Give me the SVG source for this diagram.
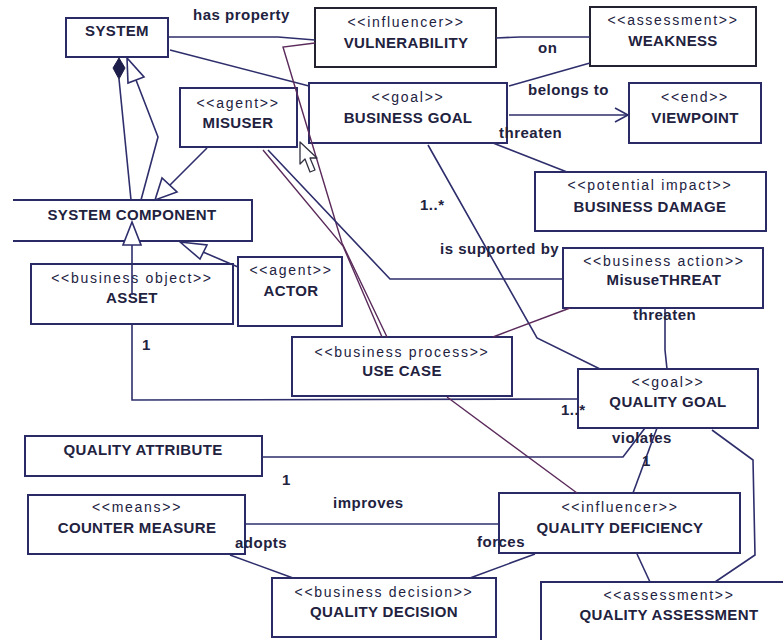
<svg xmlns="http://www.w3.org/2000/svg" width="783" height="640" viewBox="0 0 783 640">
  <style>
    .box { fill: #ffffff; stroke: #2a2a66; stroke-width: 2; }
    .box.dark { stroke: #222230; }
    .st { font-family: "Liberation Sans", Arial, sans-serif; font-size: 14px; letter-spacing: 1.7px; fill: #22223f; text-anchor: middle; }
    .nm { font-family: "Liberation Sans", Arial, sans-serif; font-size: 15px; font-weight: bold; letter-spacing: 0.35px; fill: #22223f; text-anchor: middle; }
    .lb { font-family: "Liberation Sans", Arial, sans-serif; font-size: 15px; font-weight: bold; letter-spacing: 0.5px; fill: #22223f; }
    .ln { fill: none; stroke: #2e2e6c; stroke-width: 1.6; }
    .pl { fill: none; stroke: #5a2a5a; stroke-width: 1.4; }
    .hollow { fill: #ffffff; stroke: #2e2e6c; stroke-width: 1.6; }
    .solid { fill: #1e1e4a; stroke: #1e1e4a; stroke-width: 1; }
  </style>

  <rect width="783" height="640" fill="#ffffff"/>

  <!-- nodes -->
  <g id="system">
    <rect class="box" x="66" y="18" width="102" height="39"/>
    <text class="nm" x="117" y="36">SYSTEM</text>
  </g>
  <g id="system-component">
    <path class="box" d="M13,200 H252 V241 H13"/>
    <text class="nm" x="132" y="220">SYSTEM COMPONENT</text>
  </g>
  <g id="misuser">
    <rect class="box" x="180" y="88" width="117" height="59"/>
    <text class="st" x="238" y="108">&lt;&lt;agent&gt;&gt;</text>
    <text class="nm" x="238" y="128">MISUSER</text>
  </g>
  <g id="vulnerability">
    <rect class="box dark" x="315" y="8" width="181" height="59"/>
    <text class="st" x="406" y="27">&lt;&lt;influencer&gt;&gt;</text>
    <text class="nm" x="406" y="48">VULNERABILITY</text>
  </g>
  <g id="weakness">
    <rect class="box dark" x="590" y="7" width="166" height="59"/>
    <text class="st" x="673" y="25">&lt;&lt;assessment&gt;&gt;</text>
    <text class="nm" x="673" y="46">WEAKNESS</text>
  </g>
  <g id="business-goal">
    <rect class="box" x="309" y="83" width="198" height="60"/>
    <text class="st" x="408" y="102">&lt;&lt;goal&gt;&gt;</text>
    <text class="nm" x="408" y="123">BUSINESS GOAL</text>
  </g>
  <g id="viewpoint">
    <rect class="box" x="629" y="83" width="132" height="60"/>
    <text class="st" x="695" y="102">&lt;&lt;end&gt;&gt;</text>
    <text class="nm" x="695" y="123">VIEWPOINT</text>
  </g>
  <g id="business-damage">
    <rect class="box" x="535" y="172" width="231" height="59"/>
    <text class="st" x="650" y="190">&lt;&lt;potential impact&gt;&gt;</text>
    <text class="nm" x="650" y="212">BUSINESS DAMAGE</text>
  </g>
  <g id="asset">
    <rect class="box" x="31" y="264" width="202" height="60"/>
    <text class="st" x="132" y="283">&lt;&lt;business object&gt;&gt;</text>
    <text class="nm" x="132" y="303">ASSET</text>
  </g>
  <g id="actor">
    <rect class="box" x="238" y="257" width="104" height="69"/>
    <text class="st" x="291" y="275">&lt;&lt;agent&gt;&gt;</text>
    <text class="nm" x="291" y="296">ACTOR</text>
  </g>
  <g id="misuse-threat">
    <rect class="box" x="563" y="248" width="200" height="60"/>
    <text class="st" x="664" y="266">&lt;&lt;business action&gt;&gt;</text>
    <text class="nm" x="664" y="285">MisuseTHREAT</text>
  </g>
  <g id="use-case">
    <rect class="box" x="292" y="337" width="220" height="59"/>
    <text class="st" x="402" y="357">&lt;&lt;business process&gt;&gt;</text>
    <text class="nm" x="402" y="376">USE CASE</text>
  </g>
  <g id="quality-goal">
    <rect class="box" x="578" y="369" width="180" height="59"/>
    <text class="st" x="668" y="387">&lt;&lt;goal&gt;&gt;</text>
    <text class="nm" x="668" y="407">QUALITY GOAL</text>
  </g>
  <g id="quality-attribute">
    <rect class="box" x="25" y="436" width="237" height="40"/>
    <text class="nm" x="143" y="455">QUALITY ATTRIBUTE</text>
  </g>
  <g id="counter-measure">
    <rect class="box" x="28" y="495" width="217" height="59"/>
    <text class="st" x="137" y="512">&lt;&lt;means&gt;&gt;</text>
    <text class="nm" x="137" y="533">COUNTER MEASURE</text>
  </g>
  <g id="quality-deficiency">
    <rect class="box" x="499" y="493" width="241" height="60"/>
    <text class="st" x="620" y="512">&lt;&lt;influencer&gt;&gt;</text>
    <text class="nm" x="620" y="533">QUALITY DEFICIENCY</text>
  </g>
  <g id="quality-decision">
    <rect class="box" x="272" y="578" width="224" height="59"/>
    <text class="st" x="384" y="597">&lt;&lt;business decision&gt;&gt;</text>
    <text class="nm" x="384" y="617">QUALITY DECISION</text>
  </g>
  <g id="quality-assessment">
    <rect class="box" x="541" y="582" width="262" height="80"/>
    <text class="st" x="669" y="600">&lt;&lt;assessment&gt;&gt;</text>
    <text class="nm" x="669" y="620">QUALITY ASSESSMENT</text>
  </g>

  <!-- connectors -->
  <g id="connectors">
    <!-- system has property vulnerability -->
    <polyline class="ln" points="168,37 278,37 315,40"/>
    <text class="lb" x="193" y="20">has property</text>
    <!-- system to business goal -->
    <line class="ln" x1="170" y1="50" x2="309" y2="86"/>

    <!-- composition: system component part of system -->
    <line class="ln" x1="119" y1="79" x2="131" y2="200"/>
    <polygon class="solid" points="119,58 125,68 119,79 113,68"/>
    <!-- generalization: system component is a system -->
    <polyline class="ln" points="141,200 158,137 136,80"/>
    <polygon class="hollow" points="127,58 128,83 144,77"/>

    <!-- generalization: misuser -> system component -->
    <line class="ln" x1="207" y1="148" x2="170" y2="185"/>
    <polygon class="hollow" points="155,200 162,178 177,192"/>
    <!-- generalization: asset -> system component -->
    <line class="ln" x1="132" y1="295" x2="132" y2="245"/>
    <polygon class="hollow" points="132,222 123,245 141,245"/>
    <!-- generalization: actor -> system component -->
    <line class="ln" x1="238" y1="267" x2="203" y2="252"/>
    <polygon class="hollow" points="180,242 200,259 207,245"/>

    <!-- vulnerability / misuser to use case -->
    <polyline class="pl" points="315,43 283,47 342,243 387,337"/>
    <polyline class="pl" points="263,150 343,246 382,337"/>
    <!-- misuser to misuse threat -->
    <polyline class="ln" points="268,150 390,279 563,279"/>

    <!-- vulnerability on weakness -->
    <polyline class="ln" points="496,38 520,37 590,37"/>
    <text class="lb" x="538" y="53">on</text>
    <!-- weakness to business goal -->
    <line class="ln" x1="590" y1="63" x2="509" y2="86"/>

    <!-- business goal belongs to viewpoint -->
    <line class="ln" x1="509" y1="115" x2="628" y2="115"/>
    <polyline class="ln" points="615,108 628,115 615,122"/>
    <text class="lb" x="528" y="95">belongs to</text>

    <!-- business goal threaten business damage -->
    <line class="ln" x1="493" y1="143" x2="567" y2="172"/>
    <text class="lb" x="499" y="138">threaten</text>

    <!-- business goal is supported by quality goal -->
    <polyline class="ln" points="428,145 537,338 600,369"/>
    <text class="lb" x="420" y="210">1..*</text>
    <text class="lb" x="440" y="254">is supported by</text>

    <!-- use case to misuse threat -->
    <line class="pl" x1="493" y1="337" x2="570" y2="308"/>

    <!-- misuse threat threaten quality goal -->
    <polyline class="ln" points="665,308 665,350 667,369"/>
    <text class="lb" x="633" y="320">threaten</text>

    <!-- asset to quality goal -->
    <polyline class="ln" points="132,324 132,400 578,399"/>
    <text class="lb" x="142" y="350">1</text>
    <text class="lb" x="561" y="415">1..*</text>

    <!-- use case to quality deficiency -->
    <line class="pl" x1="447" y1="397" x2="577" y2="493"/>

    <!-- quality attribute violates quality goal -->
    <polyline class="ln" points="262,457 623,457 645,428"/>
    <text class="lb" x="612" y="443">violates</text>
    <text class="lb" x="282" y="485">1</text>
    <!-- quality deficiency to quality goal -->
    <line class="ln" x1="633" y1="493" x2="657" y2="428"/>
    <text class="lb" x="642" y="466">1</text>

    <!-- quality goal to quality assessment -->
    <polyline class="ln" points="712,430 753,460 755,555 715,582"/>
    <!-- quality deficiency to quality assessment -->
    <line class="ln" x1="637" y1="554" x2="650" y2="582"/>

    <!-- counter measure improves quality deficiency -->
    <line class="ln" x1="245" y1="524" x2="499" y2="524"/>
    <text class="lb" x="333" y="508">improves</text>
    <!-- counter measure adopts quality decision -->
    <line class="ln" x1="230" y1="555" x2="293" y2="578"/>
    <text class="lb" x="235" y="548">adopts</text>
    <!-- quality deficiency forces quality decision -->
    <line class="ln" x1="535" y1="554" x2="470" y2="578"/>
    <text class="lb" x="477" y="547">forces</text>
  </g>

  <!-- mouse pointer -->
  <polygon points="300,142 300,164 305,159 310,172 315,170 310,158 317,158" fill="#ffffff" stroke="#303040" stroke-width="1.3" stroke-linejoin="round"/>
</svg>
